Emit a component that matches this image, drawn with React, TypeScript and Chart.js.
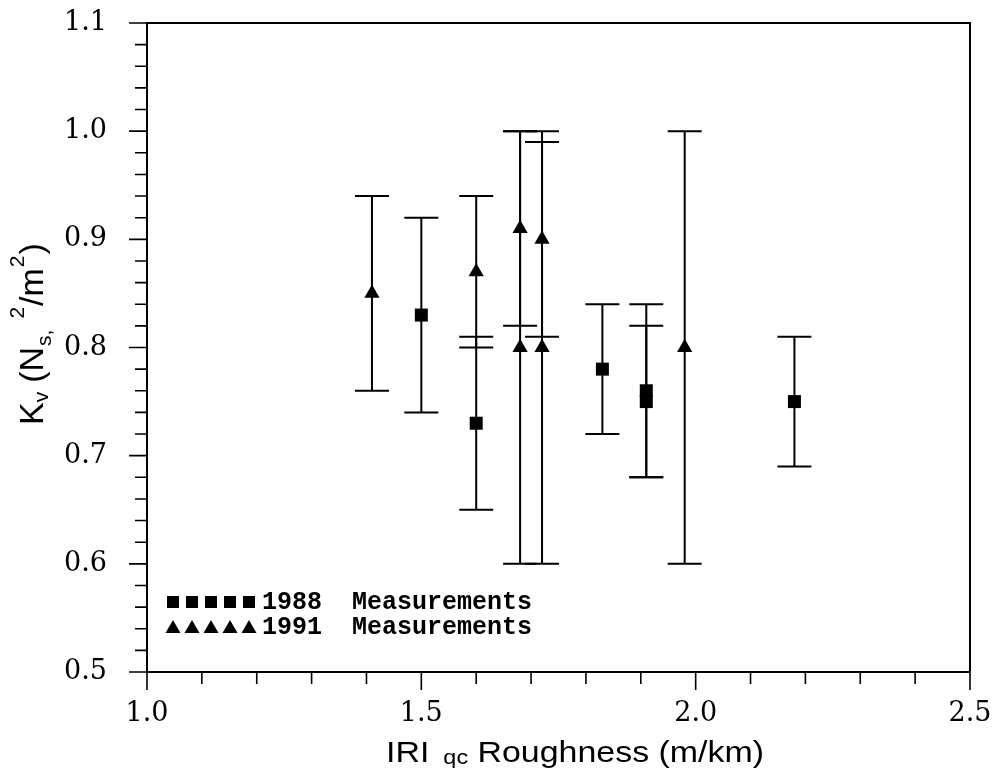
import React, { useEffect, useRef } from "react";
import { Chart, registerables } from "chart.js";

Chart.register(...registerables);

// ---- data ----
const x1988 = [1.5, 1.6, 1.83, 1.91, 1.91, 2.18];
const y1988 = [0.83, 0.73, 0.78, 0.76, 0.75, 0.75];
const lo1988 = [0.74, 0.65, 0.72, 0.68, 0.68, 0.69];
const hi1988 = [0.92, 0.81, 0.84, 0.84, 0.82, 0.81];

const x1991 = [1.41, 1.6, 1.68, 1.68, 1.72, 1.72, 1.98];
const y1991 = [0.85, 0.87, 0.91, 0.8, 0.9, 0.8, 0.8];
const lo1991 = [0.76, 0.8, 0.82, 0.6, 0.81, 0.6, 0.6];
const hi1991 = [0.94, 0.94, 1.0, 1.0, 0.99, 1.0, 1.0];

const xRange = [1.0, 2.5];
const yRange = [0.5, 1.1];
const xMinorStep = 0.1;
const yMinorStep = 0.02;
const xMajorStep = 0.5;
const yMajorStep = 0.1;

const legendLabels = ["1988  Measurements", "1991  Measurements"];
const xTitleParts = ["IRI", "qc", "Roughness (m/km)"];
const yTitleParts = ["K", "v", "(N", "s,", "2", "/m", "2", ")"];

const isMultiple = (v: number, step: number) =>
  Math.abs(v / step - Math.round(v / step)) < 1e-6;

const errorBarPlugin = {
  id: "errorBars",
  beforeDatasetsDraw(chart: any) {
    const { ctx } = chart;
    const xs = chart.scales.x;
    const ys = chart.scales.y;
    ctx.save();
    ctx.strokeStyle = "#000";
    ctx.lineWidth = 2;
    chart.data.datasets.forEach((ds: any) => {
      ds.data.forEach((p: any, i: number) => {
        const px = xs.getPixelForValue(p.x);
        const pl = ys.getPixelForValue(ds.lows[i]);
        const ph = ys.getPixelForValue(ds.highs[i]);
        ctx.beginPath();
        ctx.moveTo(px, pl);
        ctx.lineTo(px, ph);
        ctx.moveTo(px - 17, pl);
        ctx.lineTo(px + 17, pl);
        ctx.moveTo(px - 17, ph);
        ctx.lineTo(px + 17, ph);
        ctx.stroke();
      });
    });
    ctx.restore();
  },
};

const framePlugin = {
  id: "frame",
  afterDraw(chart: any) {
    const { ctx, chartArea: a } = chart;
    const xs = chart.scales.x;
    const ys = chart.scales.y;
    ctx.save();
    ctx.strokeStyle = "#000";
    ctx.lineWidth = 2;
    ctx.strokeRect(a.left, a.top, a.right - a.left, a.bottom - a.top);
    ctx.lineWidth = 1.6;
    ctx.beginPath();
    xs.ticks.forEach((t: any) => {
      const px = xs.getPixelForValue(t.value);
      const len = isMultiple(t.value, xMajorStep) ? 18 : 12;
      ctx.moveTo(px, a.bottom);
      ctx.lineTo(px, a.bottom + len);
    });
    ys.ticks.forEach((t: any) => {
      const py = ys.getPixelForValue(t.value);
      const len = isMultiple(t.value, yMajorStep) ? 18 : 12;
      ctx.moveTo(a.left, py);
      ctx.lineTo(a.left - len, py);
    });
    ctx.stroke();

    // legend
    ctx.fillStyle = "#000";
    const lx = a.left + 26;
    const r1 = a.bottom - 70;
    const r2 = a.bottom - 45;
    for (let k = 0; k < 5; k++) {
      const cx = lx + k * 19;
      ctx.fillRect(cx - 6, r1 - 6, 12, 12);
      ctx.beginPath();
      ctx.moveTo(cx, r2 - 7);
      ctx.lineTo(cx + 7.5, r2 + 6);
      ctx.lineTo(cx - 7.5, r2 + 6);
      ctx.closePath();
      ctx.fill();
    }
    ctx.font = "bold 25px 'Liberation Mono'";
    ctx.textBaseline = "alphabetic";
    ctx.textAlign = "left";
    ctx.fillText(legendLabels[0], a.left + 115, r1 + 7);
    ctx.fillText(legendLabels[1], a.left + 115, r2 + 7);

    // x title
    ctx.save();
    const sx = 1.17;
    ctx.translate(575, 762);
    ctx.scale(sx, 1);
    ctx.font = "29px 'Liberation Sans'";
    const w0 = ctx.measureText(xTitleParts[0]).width;
    const w2 = ctx.measureText(xTitleParts[2]).width;
    ctx.font = "20px 'Liberation Sans'";
    const w1 = ctx.measureText(xTitleParts[1]).width;
    const gap1 = 12;
    const gap2 = 8;
    const total = w0 + gap1 + w1 + gap2 + w2;
    let x = -total / 2;
    ctx.font = "29px 'Liberation Sans'";
    ctx.fillText(xTitleParts[0], x, 0);
    x += w0 + gap1;
    ctx.font = "20px 'Liberation Sans'";
    ctx.fillText(xTitleParts[1], x, 2);
    x += w1 + gap2;
    ctx.font = "29px 'Liberation Sans'";
    ctx.fillText(xTitleParts[2], x, 0);
    ctx.restore();

    // y title
    ctx.save();
    ctx.translate(43, 425);
    ctx.rotate(-Math.PI / 2);
    const big = "34px 'Liberation Sans'";
    const small = "21px 'Liberation Sans'";
    const segs = [
      { t: yTitleParts[0], f: big, dy: 0, g: 0 },
      { t: yTitleParts[1], f: small, dy: 5, g: 9 },
      { t: yTitleParts[2], f: big, dy: 0, g: 1 },
      { t: yTitleParts[3], f: small, dy: 8, g: 11 },
      { t: yTitleParts[4], f: small, dy: -19, g: 1 },
      { t: yTitleParts[5], f: big, dy: 0, g: 1 },
      { t: yTitleParts[6], f: small, dy: -19, g: 1 },
      { t: yTitleParts[7], f: big, dy: 0, g: 0 },
    ];
    let yx = 0;
    segs.forEach((s) => {
      ctx.font = s.f;
      ctx.fillText(s.t, yx, s.dy);
      yx += ctx.measureText(s.t).width + s.g;
    });
    ctx.restore();

    ctx.restore();
  },
};

export default function App() {
  const ref = useRef<HTMLCanvasElement | null>(null);
  useEffect(() => {
    if (!ref.current) return;
    const tickFont = { family: "'DejaVu Serif'", size: 27 };
    const chart = new Chart(ref.current, {
      type: "scatter",
      data: {
        datasets: [
          {
            label: "1988 Measurements",
            data: x1988.map((x, i) => ({ x, y: y1988[i] })),
            lows: lo1988,
            highs: hi1988,
            pointStyle: "rect",
            pointRadius: 9.2,
            pointBackgroundColor: "#000",
            pointBorderWidth: 0,
            pointBorderColor: "#000",
          } as any,
          {
            label: "1991 Measurements",
            data: x1991.map((x, i) => ({ x, y: y1991[i] })),
            lows: lo1991,
            highs: hi1991,
            pointStyle: "triangle",
            pointRadius: 8.8,
            pointBackgroundColor: "#000",
            pointBorderWidth: 0,
            pointBorderColor: "#000",
          } as any,
        ],
      },
      options: {
        animation: false,
        responsive: false,
        events: [],
        layout: { padding: { top: 23, right: 27, left: 0, bottom: 0 } },
        plugins: { legend: { display: false }, tooltip: { enabled: false } },
        scales: {
          x: {
            type: "linear",
            min: xRange[0],
            max: xRange[1],
            grid: { display: false, drawTicks: true, tickLength: 26 },
            border: { display: false },
            ticks: {
              stepSize: xMinorStep,
              autoSkip: false,
              maxRotation: 0,
              color: "#000",
              font: tickFont,
              padding: 0,
              callback: (v: any) => (isMultiple(Number(v), xMajorStep) ? Number(v).toFixed(1) : ""),
            },
            afterFit: (s: any) => {
              s.height = 100;
            },
          },
          y: {
            type: "linear",
            min: yRange[0],
            max: yRange[1],
            grid: { display: false, drawTicks: true, tickLength: 40 },
            border: { display: false },
            ticks: {
              stepSize: yMinorStep,
              autoSkip: false,
              color: "#000",
              font: tickFont,
              padding: 0,
              callback: (v: any) => (isMultiple(Number(v), yMajorStep) ? Number(v).toFixed(1) : ""),
            },
            afterFit: (s: any) => {
              s.width = 147;
            },
          },
        },
      } as any,
      plugins: [errorBarPlugin, framePlugin],
    });
    return () => chart.destroy();
  }, []);
  return (
    <div style={{ position: "fixed", left: 0, top: 0, width: 997, height: 772, background: "#fff" }}>
      <canvas ref={ref} width={997} height={772} style={{ display: "block" }} />
    </div>
  );
}
